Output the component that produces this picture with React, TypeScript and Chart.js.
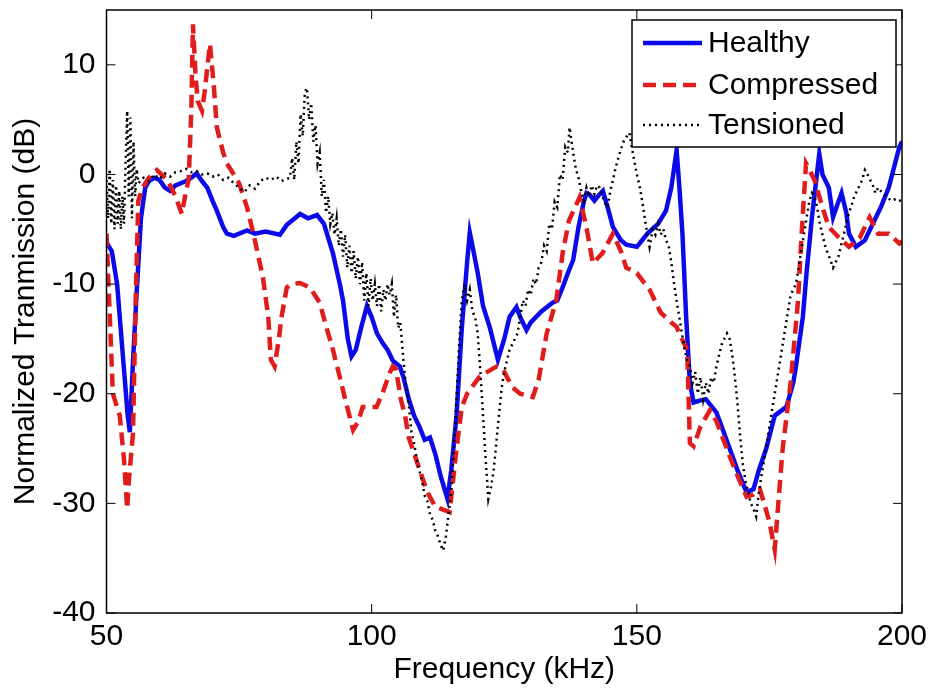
import React, { useEffect, useRef } from "react";
import { Chart, registerables } from "chart.js";

Chart.register(...registerables);

const xTickValues = [50, 100, 150, 200];
const yTickValues = [-40, -30, -20, -10, 0, 10];
const seriesLabels = ["Healthy", "Compressed", "Tensioned"];
const xTitle = "Frequency (kHz)";
const yTitle = "Normalized Tranmission (dB)";

const healthyFreq = [50, 51, 52, 53, 54, 54.4, 55, 55.6, 56.5, 57.3, 58, 59, 60, 61, 62, 63, 64, 65, 66, 67, 68, 69, 70, 70.8, 72, 72.7, 74, 76.5, 78, 80, 82.7, 84, 85, 86.5, 88, 89.7, 91, 92.7, 94, 94.6, 95.5, 96.2, 97, 98, 99.1, 100, 101, 102.1, 103, 104, 105.3, 106, 107, 108, 109, 110, 111, 112, 113, 114.3, 115, 116, 117, 118, 118.5, 119, 120, 121, 122.3, 123.8, 125, 126, 127.3, 128, 129.2, 130, 132, 134.1, 135, 136, 137, 138, 139, 140, 140.5, 141, 142, 143, 143.6, 144.5, 145.5, 147, 148, 150, 151, 152, 154, 155.5, 156.5, 157.5, 158, 158.6, 159.3, 160, 160.7, 162, 163, 165, 166, 167.5, 169, 170.7, 172, 173, 174.4, 176, 178.2, 179.5, 180, 181.3, 182, 183, 184.4, 185, 186.2, 187, 188, 188.6, 189.5, 190, 191.3, 193, 194.5, 196, 197.5, 199.5, 200];
const healthyDb = [-6.2, -7, -10, -16, -22, -23.5, -17, -11.5, -4, -1.2, -0.6, -0.3, -0.5, -1.2, -1.5, -1.0, -0.8, -0.6, -0.3, 0.1, -0.6, -1.2, -2.4, -3.3, -4.8, -5.4, -5.6, -5.1, -5.4, -5.2, -5.5, -4.6, -4.2, -3.6, -4.0, -3.7, -4.5, -7.2, -10, -11.5, -15, -16.6, -16, -14, -12, -13, -14.5, -15.4, -16, -17, -17.5, -18.5, -20.5, -22, -23, -24.2, -24, -25.5, -27.5, -29.6, -27, -22, -14, -8, -5.3, -6.5, -9, -12, -14, -16.9, -15, -13, -12.1, -13, -14.2, -13.5, -12.5, -11.7, -11.5, -10.3, -9, -7.8, -4.8, -2.5, -1.7, -1.8, -2.4, -1.8, -1.5, -3, -4.8, -6, -6.4, -6.6, -6, -5.4, -4.5, -3.3, -1.2, 2.2, -1, -5.4, -13, -19, -20.8, -20.6, -20.5, -21.7, -23, -25, -27, -29, -28.7, -27, -25, -22, -21.2, -19, -17.5, -13, -9, -4, 1.9, 0, -1.2, -3.9, -2.5, -1.7, -3.5, -5.4, -6.6, -6, -4.5, -3, -1.2, 2.5, 3];

const compressedFreq = [50, 50.5, 51.2, 52.5, 53.3, 53.9, 54.2, 55, 55.5, 56, 56.8, 58, 59.5, 61.5, 63, 64.2, 65, 65.5, 66, 66.3, 66.8, 67.2, 68, 68.5, 69.5, 70.2, 70.8, 72, 72.7, 74, 75, 76.5, 77.7, 79.5, 80.5, 81, 81.7, 82.5, 83, 84, 85, 86.5, 88.3, 89, 90.2, 91.5, 92.7, 94, 95, 96.5, 97.5, 98.3, 100.9, 102, 103.4, 104, 104.6, 105.5, 106.3, 107, 108.8, 110.5, 112, 114.7, 116, 117, 118, 120.4, 123.6, 125, 126.5, 128, 130.4, 131.5, 133, 134.8, 136, 137.2, 139.2, 140.5, 141.7, 143.5, 145.5, 147, 148, 150, 152.4, 154.5, 156.5, 157.5, 158, 159.5, 160, 160.7, 162, 163.8, 165, 167.5, 169, 170.7, 172, 173.2, 174, 175, 176, 177, 177.5, 179, 180.4, 181, 181.9, 183.5, 185, 186.2, 188, 190, 192, 193.9, 195.5, 197.5, 199.5, 200];
const compressedDb = [-5.4, -11.5, -20, -22, -26, -30.5, -28, -23.6, -11.5, -2.4, -1.2, -0.3, 0.4, -0.5, -2.0, -3.6, -1.5, -0.5, 6, 13.7, 9, 6.7, 5.8, 7.5, 11.9, 8.3, 4.3, 2, 1, 0, -0.8, -3, -5.4, -9.4, -13, -16.9, -17.5, -15, -13, -10.3, -10, -9.9, -10.3, -10.8, -11.7, -14, -16, -18.5, -20.5, -23.3, -22.5, -21.2, -21.2, -20, -18.1, -17.5, -17.8, -20.5, -22, -24, -26.6, -29, -30.3, -30.8, -25, -21.2, -20, -18.4, -17.5, -18, -19.4, -20, -20.3, -18.7, -14.5, -11.5, -7.2, -4.2, -2.1, -4.8, -8.1, -7.2, -5.4, -7, -8.5, -9, -10.5, -12.6, -13.5, -13.9, -14.5, -16, -24.5, -24.8, -23, -21.5, -22.5, -25.7, -27.5, -29.4, -29.2, -28.7, -30, -31.7, -34.2, -28, -25, -19, -11.5, -6, 1, -0.5, -3, -4.8, -5.7, -6.6, -5.8, -3.9, -5.4, -5.4, -6.3, -6.1];

const tensionedFreq = [50, 50.3, 50.6, 50.9, 51.2, 51.5, 51.8, 52.1, 52.4, 52.7, 53, 53.3, 53.6, 53.9, 54.2, 54.5, 54.8, 55.1, 55.4, 55.7, 56, 57, 58, 59, 60, 61, 62, 63, 64, 65, 66, 67, 68, 69, 70, 71, 72, 73, 74, 75, 76, 77, 78, 79, 80, 81, 82, 83, 84, 84.6, 85, 85.4, 85.8, 86.2, 86.6, 87, 87.4, 87.8, 88.2, 88.6, 89, 89.4, 89.8, 90.2, 90.6, 91, 91.4, 91.8, 92.2, 92.6, 93, 93.4, 93.8, 94.2, 94.6, 95, 95.4, 95.8, 96.2, 96.6, 97, 97.4, 97.8, 98.2, 98.6, 99, 99.4, 99.8, 100.2, 100.6, 101, 101.4, 101.8, 102.2, 102.6, 103, 103.4, 103.8, 104.2, 104.6, 105, 105.4, 106, 106.5, 107, 107.5, 108, 108.5, 109, 109.5, 110, 110.5, 111, 111.5, 112, 112.5, 113, 113.5, 114, 114.5, 115, 115.5, 116, 116.5, 117, 117.5, 118, 118.5, 119, 119.5, 120, 120.5, 121, 121.5, 122, 122.5, 123, 123.5, 124, 124.5, 125, 125.5, 126, 126.5, 127, 127.5, 128, 128.5, 129, 129.5, 130, 130.5, 131, 131.5, 132, 132.5, 133, 133.5, 134, 134.5, 135, 135.5, 136, 136.5, 137, 137.3, 137.7, 138, 138.5, 139, 139.5, 140, 140.5, 141, 141.5, 142, 142.5, 143, 143.5, 144, 144.5, 145, 145.5, 146, 146.5, 147, 147.5, 148, 148.6, 149, 149.5, 150, 150.5, 151, 151.5, 152, 152.4, 153, 153.5, 154, 154.5, 155, 155.5, 156, 156.5, 157, 157.5, 158, 158.5, 159, 159.5, 160, 160.5, 161, 161.5, 162, 162.5, 163, 163.5, 164, 164.5, 165, 165.5, 166, 166.5, 167, 167.5, 168, 168.5, 169, 169.5, 170, 170.5, 171, 171.5, 172, 172.5, 173, 174, 175, 176, 177, 178, 178.5, 179, 180, 181, 182, 182.5, 183, 183.5, 184, 184.5, 185, 185.5, 186, 186.5, 187, 187.5, 188, 188.5, 189, 189.5, 190, 190.5, 191, 191.5, 192, 192.5, 193, 193.5, 194, 194.5, 195, 195.5, 196, 197, 198, 199, 200];
const tensionedDb = [-0.5, -4, 0.5, -4.5, -0.5, -5, -1, -4.5, -1.5, -5, -2, -4.5, 1, 5.8, -2, 5.2, -4, 3, -2, 0.5, -0.8, -0.3, -0.6, 0, -0.4, 0.1, -0.2, 0.2, 0.3, 0.5, 0.2, 0.3, 0, 0.1, -0.2, 0, -0.5, -0.3, -0.8, -1.2, -1.6, -1.0, -1.3, -0.6, -0.3, -0.5, -0.2, -0.6, -0.4, -0.3, 1.5, -0.5, 3, 1, 5.5, 3.5, 7.5, 7.9, 5, 6.5, 3, 4.5, 1, 2, -2, -0.5, -3.5, -2, -4.5, -3.5, -5.5, -4, -6.5, -5, -7.5, -5.5, -8.5, -6.5, -9, -7, -9.5, -7.5, -10, -8, -11.5, -9, -12, -9.5, -11.5, -10, -12, -10, -12.5, -10.5, -11.5, -10, -11, -10, -13, -11, -14, -13.5, -17, -19.5, -21, -23.5, -24.5, -26, -27, -28, -29.3, -29.8, -31, -31.5, -32.5, -33, -33.8, -34.3, -33, -31, -29, -25, -20.5, -15.5, -11.5, -10, -11.5, -10.5, -12.5, -13, -14.5, -18, -22, -26, -29.6, -28.5, -27, -24.5, -22, -19.5, -18, -17, -16, -15.5, -15, -14.5, -13, -11.5, -12, -10.5, -11, -9.5, -10, -8.5, -8, -6.5, -7, -4.5, -5, -2.5, -3, 0, -0.5, 2.5, 2, 4.3, 3, 2, 0.5, -0.3, -1.5, -2.4, -1.2, -2, -1, -1.8, -1, -1.2, -2, -2.6, -3, -1.5, -0.5, 0.6, 1.5, 2.3, 3, 3.4, 3.8, 2.6, 1.3, 0, -1, -2.4, -4, -5.5, -6.6, -5, -5.5, -4.5, -5.5, -5, -6, -6.5, -8, -9.9, -11.5, -13, -14.5, -16, -17, -17.5, -19, -18, -20, -18.5, -20.5, -19, -20, -18.5, -19, -17.5, -16.5, -15.5, -15, -14.5, -15, -16.5, -18.5, -21, -24, -26.5, -28, -29, -30, -30.5, -31.2, -29, -26, -23, -20, -17, -14, -12.5, -11, -10, -7, -4, -2.5, -1.7, -2, -3, -4.5, -5.5, -6.5, -7.2, -7.8, -8.5, -8, -7.5, -6.5, -5.5, -4.5, -3.5, -2.8, -2, -1.5, -1, -0.5, 0.4, 0, -0.5, -1, -1.7, -1.2, -1.5, -2, -2.4, -2.2, -2.5];

const FONT = "'Liberation Sans', Arial, Helvetica, sans-serif";
const BLUE = "#0b0bea";
const RED = "#e01c1c";
const BLACK = "#000000";

function toPoints(xs: number[], ys: number[]) {
  return xs.map((x, i) => ({ x, y: ys[i] }));
}

const framePlugin = {
  id: "matlabFrame",
  afterDatasetsDraw(chart: any) {
    const { ctx, chartArea } = chart;
    const { left, right, top, bottom } = chartArea;
    const xs = chart.scales.x;
    const ys = chart.scales.y;
    ctx.save();
    ctx.strokeStyle = "#000";
    ctx.lineWidth = 1.5;
    ctx.strokeRect(left, top, right - left, bottom - top);
    const tl = 9;
    ctx.lineWidth = 1;
    ctx.beginPath();
    xs.ticks.forEach((t: any) => {
      const px = xs.getPixelForValue(t.value);
      ctx.moveTo(px, bottom);
      ctx.lineTo(px, bottom - tl);
      ctx.moveTo(px, top);
      ctx.lineTo(px, top + tl);
    });
    ys.ticks.forEach((t: any) => {
      const py = ys.getPixelForValue(t.value);
      ctx.moveTo(left, py);
      ctx.lineTo(left + tl, py);
      ctx.moveTo(right, py);
      ctx.lineTo(right - tl, py);
    });
    ctx.stroke();

    // legend
    const bx = right - 270;
    const by = top + 10;
    const bw = 264;
    const bh = 127;
    ctx.fillStyle = "#fff";
    ctx.fillRect(bx, by, bw, bh);
    ctx.lineWidth = 1.5;
    ctx.strokeStyle = "#000";
    ctx.strokeRect(bx, by, bw, bh);
    const rows = [23, 65, 105];
    const ds = chart.data.datasets;
    [0, 1, 2].forEach((di: number, r: number) => {
      const d = ds[di];
      const y = by + rows[r];
      ctx.save();
      ctx.strokeStyle = d.borderColor;
      ctx.lineWidth = d.borderWidth;
      ctx.setLineDash(d.borderDash || []);
      ctx.lineCap = "butt";
      ctx.beginPath();
      ctx.moveTo(bx + 11, y);
      ctx.lineTo(bx + 70, y);
      ctx.stroke();
      ctx.restore();
      ctx.fillStyle = "#000";
      ctx.font = "30px " + FONT;
      ctx.textBaseline = "middle";
      ctx.textAlign = "left";
      ctx.fillText(d.label, bx + 76, y + 1);
    });
    ctx.restore();
  },
};

export default function App() {
  const ref = useRef<HTMLCanvasElement | null>(null);
  useEffect(() => {
    if (!ref.current) return;
    const chart = new Chart(ref.current, {
      type: "line",
      data: {
        datasets: [
          {
            label: seriesLabels[0],
            data: toPoints(healthyFreq, healthyDb),
            borderColor: BLUE,
            borderWidth: 4.5,
            pointRadius: 0,
            tension: 0,
            order: 2,
          } as any,
          {
            label: seriesLabels[1],
            data: toPoints(compressedFreq, compressedDb),
            borderColor: RED,
            borderWidth: 4.5,
            borderDash: [13, 7],
            pointRadius: 0,
            tension: 0,
            order: 1,
          },
          {
            label: seriesLabels[2],
            data: toPoints(tensionedFreq, tensionedDb),
            borderColor: BLACK,
            borderWidth: 2.5,
            borderDash: [2, 4],
            pointRadius: 0,
            tension: 0,
            order: 0,
          },
        ],
      },
      options: {
        animation: false,
        responsive: false,
        events: [],
        layout: { padding: { top: 10, right: 29, left: 0, bottom: 0 } },
        plugins: { legend: { display: false }, tooltip: { enabled: false } },
        scales: {
          x: {
            type: "linear",
            min: 50,
            max: 200,
            afterBuildTicks: (s: any) => {
              s.ticks = xTickValues.map((v) => ({ value: v }));
            },
            afterFit: (s: any) => {
              s.height = 79;
              s.paddingLeft = 0;
              s.paddingRight = 0;
            },
            grid: { display: false, drawTicks: false },
            border: { display: false },
            ticks: {
              color: "#000",
              padding: 6,
              font: { family: FONT, size: 30 },
              maxRotation: 0,
            },
            title: {
              display: true,
              text: xTitle,
              color: "#000",
              font: { family: FONT, size: 30 },
              padding: { top: 0, bottom: 4 },
            },
          },
          y: {
            type: "linear",
            min: -40,
            max: 15,
            afterBuildTicks: (s: any) => {
              s.ticks = yTickValues.map((v) => ({ value: v }));
            },
            afterFit: (s: any) => {
              s.width = 106.5;
              s.paddingTop = 0;
              s.paddingBottom = 0;
            },
            grid: { display: false, drawTicks: false },
            border: { display: false },
            ticks: {
              color: "#000",
              padding: 11,
              font: { family: FONT, size: 30 },
            },
            title: {
              display: true,
              text: yTitle,
              color: "#000",
              font: { family: FONT, size: 30 },
              padding: { top: 8, bottom: 0 },
            },
          },
        },
      },
      plugins: [framePlugin],
    });
    return () => chart.destroy();
  }, []);
  return (
    <div style={{ position: "absolute", left: 0, top: 0, width: 931, height: 692, background: "#fff" }}>
      <canvas ref={ref} width={931} height={692} style={{ display: "block" }} />
    </div>
  );
}
